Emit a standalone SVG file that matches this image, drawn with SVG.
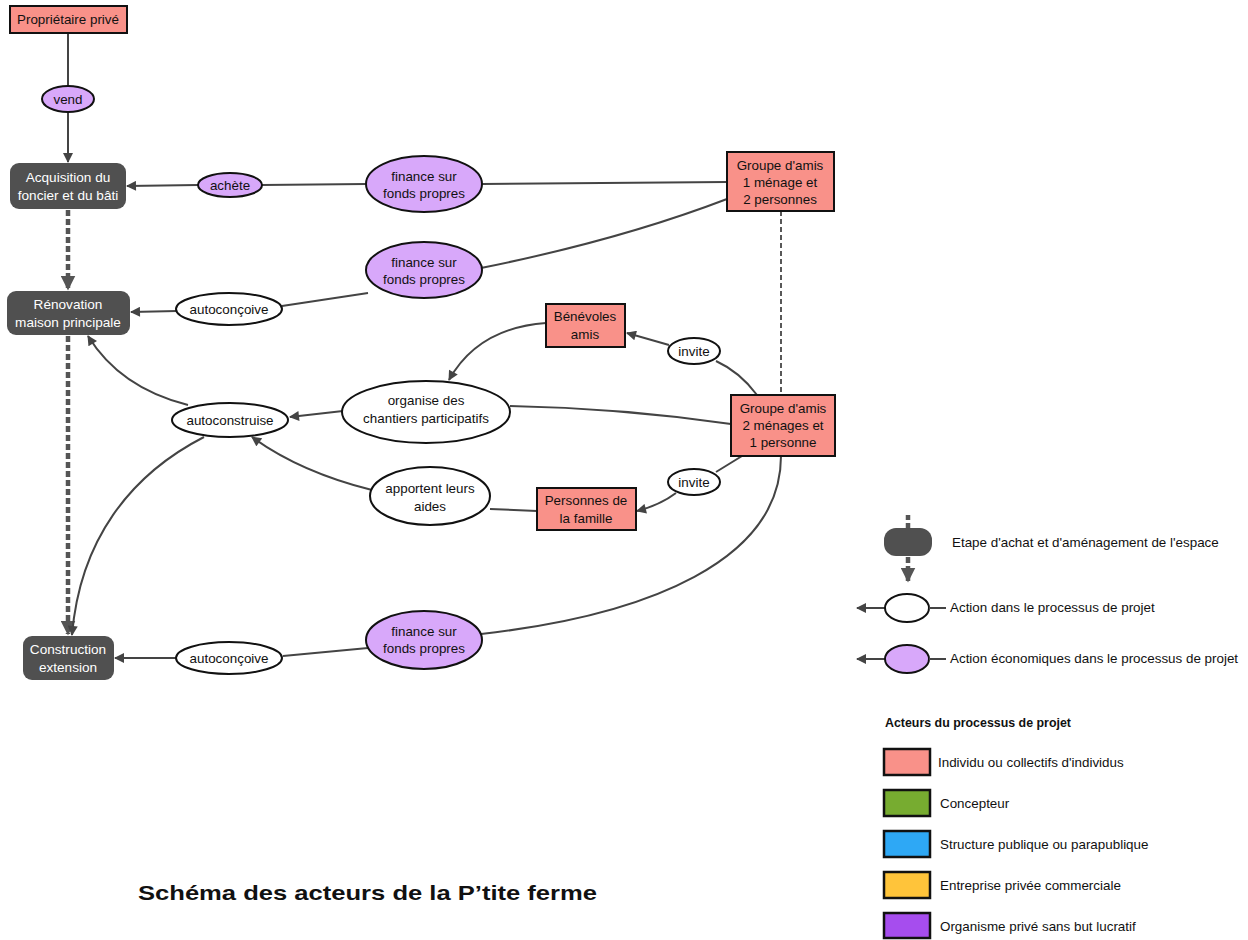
<svg xmlns="http://www.w3.org/2000/svg" width="1248" height="940" viewBox="0 0 1248 940">
<style>
text{font-family:"Liberation Sans",Arial,sans-serif;font-size:13.4px;fill:#111;text-anchor:middle}
.actor{fill:#F99189;stroke:#111;stroke-width:2}
.stage{fill:#505050;stroke:none}
.stage-t{fill:#fff;font-size:13.6px}
.act{fill:#fff;stroke:#111;stroke-width:2}
.eco{fill:#D8A8FA;stroke:#111;stroke-width:2}
.edge{fill:none;stroke:#444;stroke-width:2}
.step{fill:none;stroke:#555;stroke-width:4.5;stroke-dasharray:6,3}
.leg{text-anchor:start}
.sq{stroke:#111;stroke-width:2.5}
</style>
<defs>
<marker id="arr" viewBox="0 0 10 10" refX="9" refY="5" markerWidth="11" markerHeight="10" orient="auto" markerUnits="userSpaceOnUse"><path d="M0,0 L10,5 L0,10 z" fill="#444"/></marker>
<marker id="arrB" viewBox="0 0 10 10" refX="9" refY="5" markerWidth="15" markerHeight="15" orient="auto" markerUnits="userSpaceOnUse"><path d="M0,0 L10,5 L0,10 z" fill="#555"/></marker>
</defs>

<g id="connectors">
<line class="edge" x1="68" y1="33" x2="68" y2="86"/>
<line class="edge" x1="68" y1="112" x2="68" y2="162" marker-end="url(#arr)"/>
<line class="edge" x1="727" y1="182" x2="482" y2="184"/>
<line class="edge" x1="366" y1="184" x2="262" y2="185"/>
<line class="edge" x1="198" y1="185" x2="127" y2="186" marker-end="url(#arr)"/>
<path class="edge" d="M727,199 Q620,240 481,268"/>
<path class="edge" d="M368,293 L282,306"/>
<path class="edge" d="M177,311 L131,312" marker-end="url(#arr)"/>
<line class="step" x1="68" y1="210" x2="68" y2="289" marker-end="url(#arrB)"/>
<line class="step" x1="68" y1="336" x2="68" y2="634" marker-end="url(#arrB)"/>
<line x1="781" y1="211" x2="781" y2="395" stroke="#222" stroke-width="1.5" stroke-dasharray="5,3"/>
<path class="edge" d="M757,395 Q740,372 716,361"/>
<path class="edge" d="M669,345 L627,333" marker-end="url(#arr)"/>
<path class="edge" d="M546,323 Q478,328 449,380" marker-end="url(#arr)"/>
<path class="edge" d="M731,424 Q620,408 510,406"/>
<path class="edge" d="M343,411 L290,417" marker-end="url(#arr)"/>
<path class="edge" d="M188,405 Q120,388 88,336" marker-end="url(#arr)"/>
<path class="edge" d="M204,437 C130,475 80,540 72,635" marker-end="url(#arr)"/>
<path class="edge" d="M372,490 Q300,472 252,437" marker-end="url(#arr)"/>
<path class="edge" d="M537,511 L490,509"/>
<path class="edge" d="M742,456 L716,472"/>
<path class="edge" d="M676,493 Q660,505 637,511" marker-end="url(#arr)"/>
<path class="edge" d="M781,456 C781,560 650,615 481,634"/>
<path class="edge" d="M368,648 L283,656"/>
<path class="edge" d="M177,658 L115,658" marker-end="url(#arr)"/>
</g>

<g id="proprietaire"><rect class="actor" x="10" y="6" width="117" height="27"/><text x="68" y="24">Propriétaire privé</text></g>
<g id="vend"><ellipse class="eco" cx="68" cy="99" rx="26" ry="13"/><text x="68" y="104">vend</text></g>
<g id="acquisition"><rect class="stage" x="10" y="163" width="116" height="46" rx="9"/><text class="stage-t" x="68" y="182">Acquisition du</text><text class="stage-t" x="68" y="200">foncier et du bâti</text></g>
<g id="achete"><ellipse class="eco" cx="230" cy="185" rx="32" ry="12"/><text x="230" y="190">achète</text></g>
<g id="finance1"><ellipse class="eco" cx="424" cy="184" rx="58" ry="28"/><text x="424" y="181">finance sur</text><text x="424" y="198">fonds propres</text></g>
<g id="groupe1"><rect class="actor" x="727" y="152" width="107" height="59"/><text x="780" y="170">Groupe d'amis</text><text x="780" y="187">1 ménage et</text><text x="780" y="204">2 personnes</text></g>
<g id="renovation"><rect class="stage" x="7" y="291" width="123" height="44" rx="9"/><text class="stage-t" x="68" y="309">Rénovation</text><text class="stage-t" x="68" y="327">maison principale</text></g>
<g id="autoconcoive1"><ellipse class="act" cx="229" cy="309" rx="53" ry="16"/><text x="229" y="314">autoconçoive</text></g>
<g id="finance2"><ellipse class="eco" cx="424" cy="270" rx="58" ry="28"/><text x="424" y="267">finance sur</text><text x="424" y="284">fonds propres</text></g>
<g id="benevoles"><rect class="actor" x="546" y="304" width="79" height="43"/><text x="585" y="321">Bénévoles</text><text x="585" y="339">amis</text></g>
<g id="invite1"><ellipse class="act" cx="694" cy="351" rx="26" ry="13"/><text x="694" y="356">invite</text></g>
<g id="organise"><ellipse class="act" cx="426" cy="412" rx="84" ry="31"/><text x="426" y="405">organise des</text><text x="426" y="423">chantiers participatifs</text></g>
<g id="autoconstruise"><ellipse class="act" cx="230" cy="420" rx="58" ry="17"/><text x="230" y="425">autoconstruise</text></g>
<g id="groupe2"><rect class="actor" x="731" y="395" width="104" height="61"/><text x="783" y="413">Groupe d'amis</text><text x="783" y="430">2 ménages et</text><text x="783" y="447">1 personne</text></g>
<g id="invite2"><ellipse class="act" cx="694" cy="482" rx="26" ry="13"/><text x="694" y="487">invite</text></g>
<g id="apportent"><ellipse class="act" cx="430" cy="496" rx="60" ry="29"/><text x="430" y="493">apportent leurs</text><text x="430" y="511">aides</text></g>
<g id="personnes"><rect class="actor" x="537" y="488" width="99" height="42"/><text x="586" y="505">Personnes de</text><text x="586" y="523">la famille</text></g>
<g id="finance3"><ellipse class="eco" cx="424" cy="640" rx="58" ry="29"/><text x="424" y="636">finance sur</text><text x="424" y="653">fonds propres</text></g>
<g id="autoconcoive2"><ellipse class="act" cx="229" cy="658" rx="53" ry="16"/><text x="229" y="663">autoconçoive</text></g>
<g id="construction"><rect class="stage" x="23" y="636" width="91" height="44" rx="9"/><text class="stage-t" x="68" y="654">Construction</text><text class="stage-t" x="68" y="672">extension</text></g>

<g id="legend">
<line x1="908" y1="515" x2="908" y2="528" stroke="#555" stroke-width="4.5" stroke-dasharray="5,3"/>
<rect class="stage" x="884" y="528" width="48" height="28" rx="12"/>
<line class="step" x1="908" y1="557" x2="908" y2="581" marker-end="url(#arrB)"/>
<text class="leg" x="952" y="547">Etape d'achat et d'aménagement de l'espace</text>
<line class="edge" x1="885" y1="608" x2="857" y2="608" marker-end="url(#arr)"/>
<ellipse class="act" cx="907" cy="608" rx="22" ry="14"/>
<line class="edge" x1="929" y1="608" x2="946" y2="608"/>
<text class="leg" x="950" y="612">Action dans le processus de projet</text>
<line class="edge" x1="885" y1="659" x2="857" y2="659" marker-end="url(#arr)"/>
<ellipse class="eco" cx="907" cy="659" rx="22" ry="14"/>
<line class="edge" x1="929" y1="659" x2="946" y2="659"/>
<text class="leg" x="950" y="663">Action économiques dans le processus de projet</text>
<text class="leg" x="885" y="727" style="font-weight:bold;font-size:12.4px">Acteurs du processus de projet</text>
<rect class="sq" x="884" y="749" width="46" height="26" fill="#F99189"/>
<text class="leg" x="938" y="767">Individu ou collectifs d'individus</text>
<rect class="sq" x="884" y="790" width="46" height="26" fill="#77AC30"/>
<text class="leg" x="940" y="808">Concepteur</text>
<rect class="sq" x="884" y="831" width="46" height="26" fill="#2EA8F5"/>
<text class="leg" x="940" y="849">Structure publique ou parapublique</text>
<rect class="sq" x="884" y="872" width="46" height="26" fill="#FFC43A"/>
<text class="leg" x="940" y="890">Entreprise privée commerciale</text>
<rect class="sq" x="884" y="913" width="46" height="25" fill="#A64DEE"/>
<text class="leg" x="940" y="931">Organisme privé sans but lucratif</text>
</g>

<text id="title" x="138" y="900" style="text-anchor:start;font-weight:bold;font-size:21px" textLength="459" lengthAdjust="spacingAndGlyphs">Schéma des acteurs de la P’tite ferme</text>
</svg>
